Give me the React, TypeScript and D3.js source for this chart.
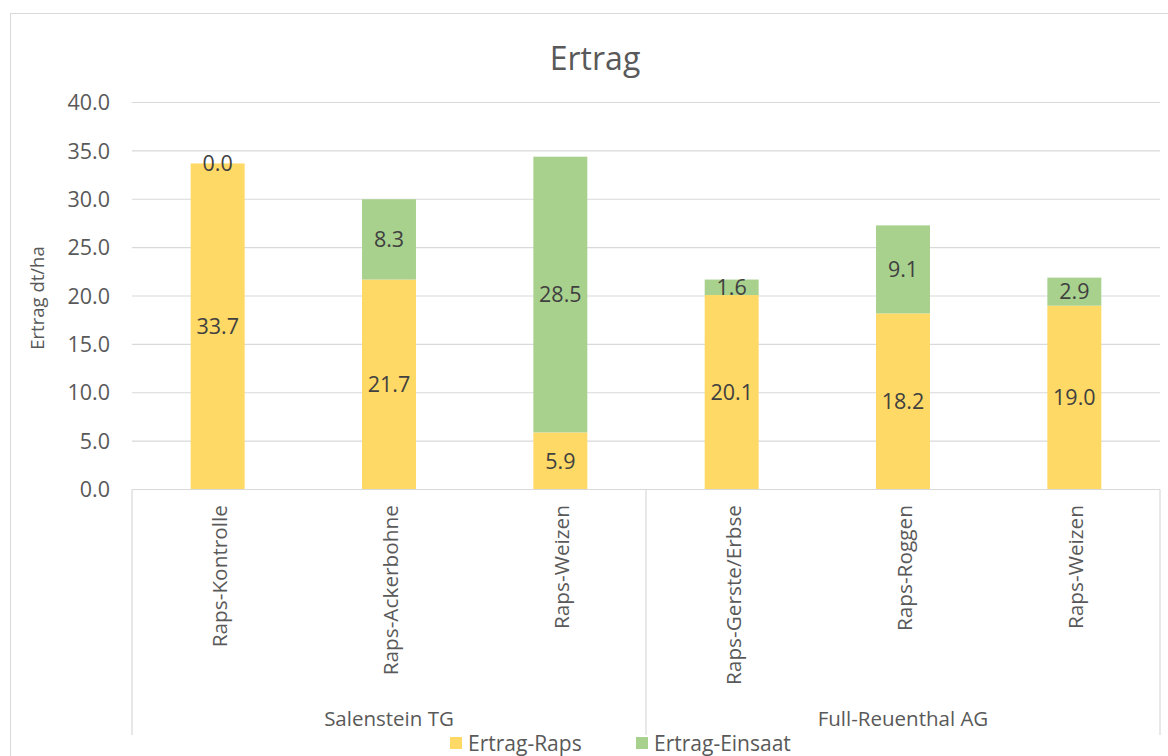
import * as d3 from 'd3';

// ── Daten ──────────────────────────────────────────────
const categories = ['Raps-Kontrolle', 'Raps-Ackerbohne', 'Raps-Weizen', 'Raps-Gerste/Erbse', 'Raps-Roggen', 'Raps-Weizen'];
const groups = ['Salenstein TG', 'Full-Reuenthal AG'];
const groupSizes = [3, 3];
const ertragRaps = [33.7, 21.7, 5.9, 20.1, 18.2, 19.0];
const ertragEinsaat = [0.0, 8.3, 28.5, 1.6, 9.1, 2.9];
const seriesNames = ['Ertrag-Raps', 'Ertrag-Einsaat'];
const seriesColors = ['#FFD966', '#A9D18E'];
const yTicks = [0, 5, 10, 15, 20, 25, 30, 35, 40];

const W = 1168, H = 756;
const FONT = '"Open Sans", "Liberation Sans", sans-serif';
const plot = { left: 132, right: 1160, top: 102.5, bottom: 489.5 };

export default function App() {
  const rows = categories.map((c, i) => ({ idx: i, raps: ertragRaps[i], einsaat: ertragEinsaat[i] }));

  const x = d3.scaleBand<number>()
    .domain(rows.map(r => r.idx))
    .range([plot.left, plot.right])
    .paddingInner(0.685)
    .paddingOuter(0.685 / 2);

  const y = d3.scaleLinear().domain([0, 40]).range([plot.bottom, plot.top]);

  const stacked = d3.stack<any>().keys(['raps', 'einsaat'])(rows);

  // Gruppen-Trenner (multi-level Achse)
  const step = x.step();
  let acc = 0;
  const groupBounds = groupSizes.map(n => {
    const x0 = plot.left + acc * step;
    acc += n;
    return { x0, x1: plot.left + acc * step };
  });
  const separators = [plot.left, ...groupBounds.map(g => g.x1)];

  return (
    <svg width={W} height={H} style={{ position: 'absolute', left: 0, top: 0, background: '#fff' }} fontFamily={FONT}>
      <rect x={10.5} y={13.5} width={1170} height={760} fill="#fff" stroke="#d9d9d9" />

      <text x={595} y={70} textAnchor="middle" fontSize={32} fill="#595959">Ertrag</text>

      {/* Gitterlinien */}
      {yTicks.filter(t => t > 0).map(t => (
        <line key={t} x1={plot.left} x2={plot.right} y1={y(t)} y2={y(t)} stroke="#d9d9d9" strokeWidth={1.2} />
      ))}
      {yTicks.map(t => (
        <text key={'l' + t} x={110} y={y(t)} dy="0.36em" textAnchor="end" fontSize={21.5} fill="#595959">
          {d3.format('.1f')(t)}
        </text>
      ))}

      <text transform={`translate(36,${(plot.top + plot.bottom) / 2 + 2}) rotate(-90)`} textAnchor="middle"
        dominantBaseline="central" fontSize={18.5} fill="#595959">Ertrag dt/ha</text>

      {/* Balken */}
      {stacked.map((s, si) => (
        <g key={s.key}>
          {s.map((d, i) => (
            <rect key={i} x={x(rows[i].idx)} width={x.bandwidth()} y={y(d[1])}
              height={Math.max(0, y(d[0]) - y(d[1]))} fill={seriesColors[si]} />
          ))}
        </g>
      ))}

      {/* Datenbeschriftungen */}
      {stacked.map(s => s.map((d, i) => (
        <text key={s.key + i} x={(x(rows[i].idx) as number) + x.bandwidth() / 2} y={y((d[0] + d[1]) / 2)}
          dy="0.36em" textAnchor="middle" fontSize={21.5} fill="#404040">
          {d3.format('.1f')(d[1] - d[0])}
        </text>
      )))}

      {/* Kategorieachse */}
      <line x1={plot.left} x2={plot.right} y1={plot.bottom} y2={plot.bottom} stroke="#d9d9d9" strokeWidth={1.2} />
      {separators.map((sx, i) => (
        <line key={i} x1={sx} x2={sx} y1={plot.bottom} y2={735} stroke="#d9d9d9" strokeWidth={1.2} />
      ))}
      {rows.map(r => (
        <text key={r.idx} transform={`translate(${(x(r.idx) as number) + x.bandwidth() / 2 + 1},505) rotate(-90)`}
          textAnchor="end" dominantBaseline="central" fontSize={20.8} fill="#595959">
          {categories[r.idx]}
        </text>
      ))}
      {groups.map((g, i) => (
        <text key={g} x={(groupBounds[i].x0 + groupBounds[i].x1) / 2} y={726} textAnchor="middle" fontSize={20.5} fill="#595959">{g}</text>
      ))}

      {/* Legende */}
      {seriesNames.map((n, i) => {
        const lx = [450, 636][i];
        return (
          <g key={n}>
            <rect x={lx} y={737} width={12} height={12} fill={seriesColors[i]} />
            <text x={lx + 18} y={751} fontSize={21} fill="#595959">{n}</text>
          </g>
        );
      })}
    </svg>
  );
}
